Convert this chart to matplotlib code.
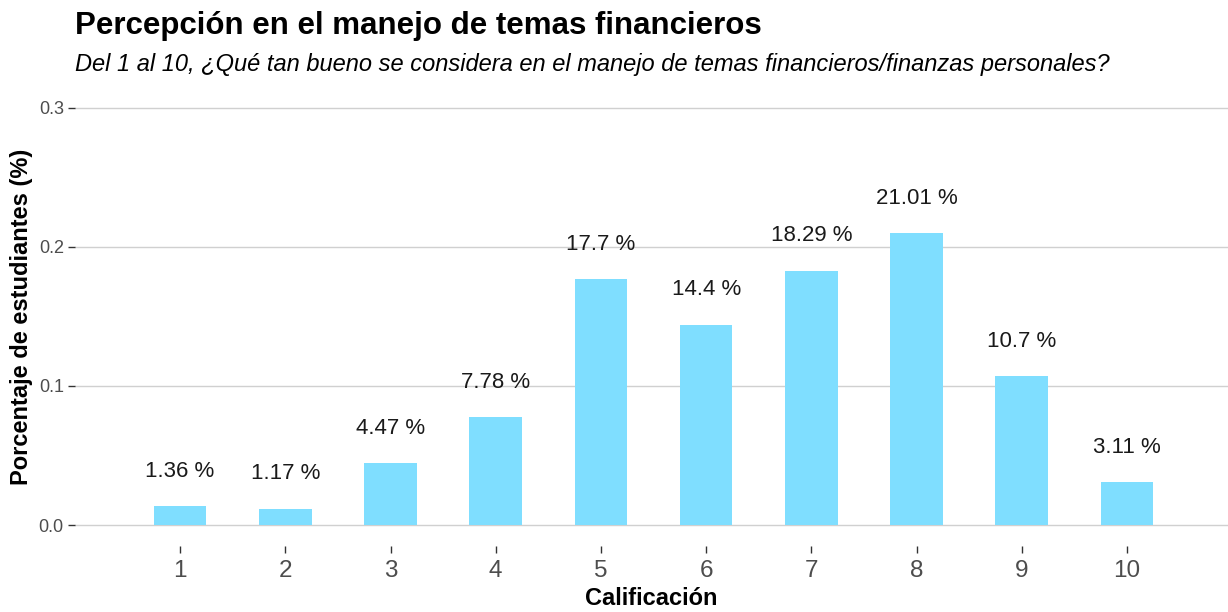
import numpy as np
import matplotlib.pyplot as plt

plt.rcParams['font.family'] = ['Liberation Sans', 'DejaVu Sans']

# datos
calificacion = [1, 2, 3, 4, 5, 6, 7, 8, 9, 10]
porcentajes = [1.36, 1.17, 4.47, 7.78, 17.7, 14.4, 18.29, 21.01, 10.7, 3.11]
etiquetas = [str(p) + " %" for p in porcentajes]
yticks = [0.0, 0.1, 0.2, 0.3]

fig = plt.figure(figsize=(12.28, 6.12), dpi=100)
ax = fig.add_axes([0.061, 0.108, 0.939, 0.75])

alturas = np.array(porcentajes) / 100
ax.bar(calificacion, alturas, width=0.5, color="#7FDEFF", zorder=3)

for x, h, t in zip(calificacion, alturas, etiquetas):
    ax.text(x, h + 0.025, t, ha="center", va="center", fontsize=16, color="#1a1a1a")

ax.set_xlim(0.0, 10.96)
ax.set_ylim(-0.015, 0.315)
ax.set_yticks(yticks)
ax.set_yticklabels(["0.0", "0.1", "0.2", "0.3"])
ax.set_xticks(calificacion)
ax.grid(axis="y", color="#d0d0d0", linewidth=1, zorder=0)
ax.grid(axis="x", visible=False)
for s in ax.spines.values():
    s.set_visible(False)
ax.tick_params(axis="y", length=5, width=1, color="#333333", labelsize=13, labelcolor="#4d4d4d", pad=3)
ax.tick_params(axis="x", length=5, width=1, color="#333333", labelsize=17.5, labelcolor="#4d4d4d", pad=5)

ax.set_xlabel("Calificación", fontsize=17, fontweight="bold", labelpad=4)
ax.set_ylabel("Porcentaje de estudiantes (%)", fontsize=17, fontweight="bold", labelpad=4)

fig.text(0.061, 0.958, "Percepción en el manejo de temas financieros", fontsize=22.5, fontweight="bold", va="center")
fig.text(0.061, 0.894, "Del 1 al 10, ¿Qué tan bueno se considera en el manejo de temas financieros/finanzas personales?",
         fontsize=17, style="italic", va="center")

fig.savefig("out.png", dpi=100)
